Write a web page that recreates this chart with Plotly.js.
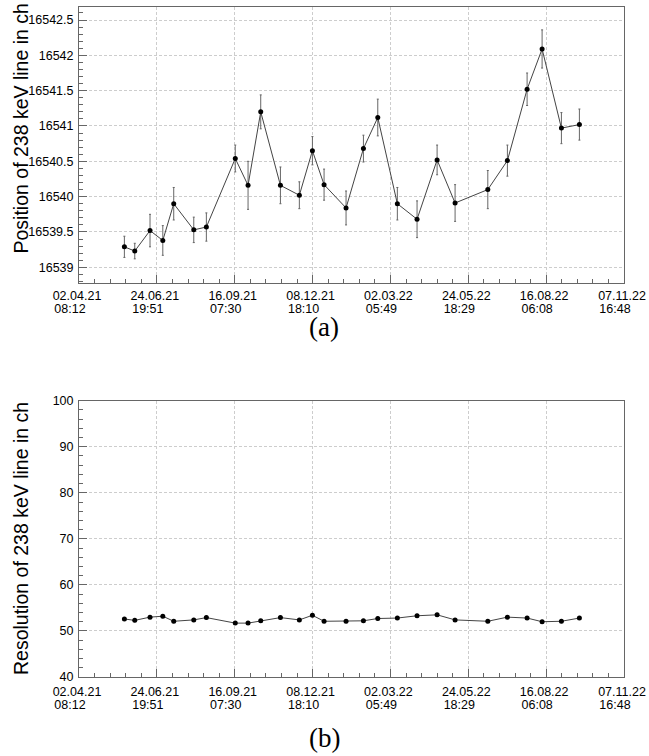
<!DOCTYPE html>
<html>
<head>
<meta charset="utf-8">
<script src="https://cdn.plot.ly/plotly-3.0.1.min.js"></script>
<style>html,body{margin:0;padding:0;background:#fff;}#chart{width:649px;height:756px;}</style>
</head>
<body>
<div id="chart"></div>
<script>
// ---- data ----
var measTimes = ['2021-05-20 22:00','2021-06-01 01:00','2021-06-17 10:00','2021-07-01 03:00','2021-07-12 20:00','2021-08-03 08:00','2021-08-16 20:00','2021-09-16 20:00','2021-09-30 13:00','2021-10-14 03:00','2021-11-04 06:00','2021-11-24 13:00','2021-12-08 13:00','2021-12-21 01:00','2022-01-13 15:00','2022-02-01 06:00','2022-02-16 15:00','2022-03-09 15:00','2022-03-30 18:00','2022-04-21 06:00','2022-05-10 13:00','2022-06-14 15:00','2022-07-05 15:00','2022-07-26 18:00','2022-08-11 20:00','2022-09-01 13:00','2022-09-20 20:00'];
var position = [16539.29,16539.23,16539.52,16539.38,16539.90,16539.53,16539.57,16540.54,16540.16,16541.20,16540.16,16540.02,16540.65,16540.17,16539.84,16540.68,16541.12,16539.90,16539.68,16540.52,16539.91,16540.10,16540.51,16541.52,16542.09,16540.97,16541.02];
var positionErr = [0.15,0.11,0.23,0.21,0.23,0.18,0.20,0.19,0.34,0.24,0.26,0.19,0.20,0.22,0.24,0.19,0.26,0.23,0.26,0.21,0.26,0.27,0.22,0.23,0.27,0.22,0.22];
var resolution = [52.6,52.3,53.0,53.2,52.1,52.4,52.9,51.7,51.7,52.2,52.9,52.4,53.4,52.1,52.1,52.2,52.7,52.8,53.3,53.5,52.4,52.1,53.0,52.8,52.0,52.1,52.8];
var resolutionErr = [0.3,0.3,0.3,0.3,0.3,0.3,0.3,0.3,0.3,0.3,0.3,0.3,0.3,0.3,0.3,0.3,0.3,0.3,0.3,0.3,0.3,0.3,0.3,0.3,0.3,0.3,0.3];
var tickVals = ['2021-04-02 06:12','2021-06-24 17:51','2021-09-16 05:30','2021-12-08 17:10','2022-03-02 04:49','2022-05-24 16:29','2022-08-16 04:08','2022-11-07 15:48'];
var tickDates = ['02.04.21','24.06.21','16.09.21','08.12.21','02.03.22','24.05.22','16.08.22','07.11.22'];
var tickTimes = ['08:12','19:51','07:30','18:10','05:49','18:29','06:08','16:48'];
var xRange = ['2021-04-02 06:12','2022-11-07 15:48'];
var posRange = [16538.778, 16542.684];
var resRange = [40, 100];
var yTitles = ['Position of 238 keV line in ch','Resolution of 238 keV line in ch'];
var panelLabels = ['(a)','(b)'];

// ---- styling ----
var FONT = 'Liberation Sans, Arial, sans-serif';
var tickFont = {family: FONT, size: 12.5, color: '#000'};
var frameColor = '#666';
var gridColor = '#cdcdcd';
var majorMs = 7213140000; // 83d 11h 39m
var minorMs = majorMs / 5;

function dateAxis(anchor, standoff) {
  return {
    type: 'date', anchor: anchor, range: xRange, domain: [0, 1],
    tickmode: 'array', tickvals: tickVals, ticktext: tickDates,
    ticks: 'inside', ticklen: 8, tickcolor: frameColor, tickwidth: 1,
    showline: true, linecolor: frameColor, linewidth: 1, mirror: true,
    showgrid: true, gridcolor: gridColor, griddash: '3px,2px', gridwidth: 1,
    zeroline: false, tickfont: tickFont,
    ticklabelstandoff: standoff, ticklabelshift: -2,
    minor: {tick0: xRange[0], dtick: minorMs, ticks: 'inside', ticklen: 4, tickcolor: frameColor, showgrid: false},
    fixedrange: true
  };
}
function timeAxis(over, anchor, standoff) {
  return {
    type: 'date', overlaying: over, anchor: anchor, side: 'bottom', range: xRange,
    tickmode: 'array', tickvals: tickVals, ticktext: tickTimes,
    ticks: '', showline: false, showgrid: false, zeroline: false,
    tickfont: tickFont, ticklabelstandoff: standoff, ticklabelshift: -9,
    fixedrange: true
  };
}
function valAxis(anchor, domain, range, tick0, dtick, minorDtick, fmt) {
  return {
    anchor: anchor, domain: domain, range: range,
    tickmode: 'linear', tick0: tick0, dtick: dtick, tickformat: fmt,
    ticks: 'inside', ticklen: 8, tickcolor: frameColor, tickwidth: 1,
    showline: true, linecolor: frameColor, linewidth: 1, mirror: true,
    showgrid: true, gridcolor: gridColor, griddash: '3px,2px', gridwidth: 1,
    zeroline: false, tickfont: tickFont, ticklabelstandoff: 2,
    minor: {dtick: minorDtick, ticks: 'inside', ticklen: 4, tickcolor: frameColor, showgrid: false},
    fixedrange: true
  };
}

var traces = [
  {
    x: measTimes, y: position, xaxis: 'x', yaxis: 'y', type: 'scatter', mode: 'lines+markers',
    line: {color: '#444', width: 1}, marker: {color: '#000', size: 5},
    error_y: {type: 'data', array: positionErr, visible: true, color: '#666', thickness: 1, width: 1},
    hoverinfo: 'skip'
  },
  {
    x: measTimes, y: resolution, xaxis: 'x2', yaxis: 'y2', type: 'scatter', mode: 'lines+markers',
    line: {color: '#444', width: 1}, marker: {color: '#000', size: 5},
    error_y: {type: 'data', array: resolutionErr, visible: true, color: '#666', thickness: 1, width: 1},
    hoverinfo: 'skip'
  },
  // carriers for the second (time-of-day) label rows; draw nothing
  {x: measTimes, y: position, xaxis: 'x3', yaxis: 'y', type: 'scatter', mode: 'none', hoverinfo: 'skip'},
  {x: measTimes, y: resolution, xaxis: 'x4', yaxis: 'y2', type: 'scatter', mode: 'none', hoverinfo: 'skip'}
];

var H = 670, TOP = 7, L = 79, W = 545;
function py(pix) { return (TOP + H - pix) / H; }
function px(pix) { return (pix - L) / W; }

var layout = {
  width: 649, height: 756,
  margin: {l: L, r: 25, t: TOP, b: 79},
  paper_bgcolor: '#fff', plot_bgcolor: '#fff',
  showlegend: false,
  xaxis: dateAxis('y', 1),
  xaxis3: timeAxis('x', 'y', 16),
  yaxis: valAxis('x', [py(283), 1], posRange, 16539, 0.5, 0.1, '.1~f'),
  xaxis2: dateAxis('y2', 3),
  xaxis4: timeAxis('x2', 'y2', 18),
  yaxis2: valAxis('x2', [0, py(400.7)], resRange, 40, 10, 2, 'd'),
  annotations: [
    {text: yTitles[0], textangle: -90, xref: 'paper', yref: 'paper', x: px(20.5), y: py(2), xanchor: 'center', yanchor: 'top', showarrow: false, font: {family: FONT, size: 19.5, color: '#000'}},
    {text: yTitles[1], textangle: -90, xref: 'paper', yref: 'paper', x: px(20.5), y: py(400), xanchor: 'center', yanchor: 'top', showarrow: false, font: {family: FONT, size: 19.5, color: '#000'}},
    {text: panelLabels[0], xref: 'paper', yref: 'paper', x: px(324), y: py(327), xanchor: 'center', yanchor: 'middle', showarrow: false, font: {family: 'Liberation Serif, serif', size: 27, color: '#000'}},
    {text: panelLabels[1], xref: 'paper', yref: 'paper', x: px(324), y: py(738), xanchor: 'center', yanchor: 'middle', showarrow: false, font: {family: 'Liberation Serif, serif', size: 27, color: '#000'}}
  ]
};

Plotly.newPlot('chart', traces, layout, {displayModeBar: false, staticPlot: true});
</script>
</body>
</html>
